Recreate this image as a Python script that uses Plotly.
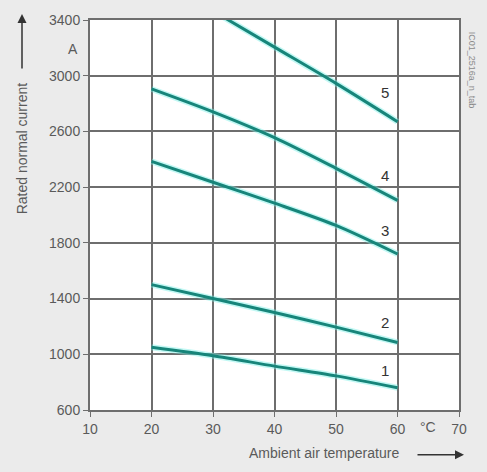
import plotly.graph_objects as go

temps = [20, 30, 40, 50, 60]
curve1 = [1050, 990, 915, 845, 760]
curve2 = [1500, 1400, 1300, 1195, 1085]
curve3 = [2385, 2235, 2085, 1925, 1720]
curve4 = [2905, 2740, 2555, 2335, 2105]
temps5 = [30, 40, 50, 60]
curve5 = [3465, 3205, 2945, 2670]
curve_labels = ["1", "2", "3", "4", "5"]
label_x = [58, 58, 58, 58, 58]
label_y = [870, 1215, 1875, 2270, 2865]
x_ticks = [10, 20, 30, 40, 50, 60, 70]
y_ticks = [600, 1000, 1400, 1800, 2200, 2600, 3000, 3400]

W, H = 487, 472
L, T = 90, 18
R = W - 459
B = H - 410
pw, ph = W - L - R, H - T - B

def px(xp):
    return (xp - L) / pw

def py(yp):
    return (H - B - yp) / ph

line_color = "#17857a"
font = "Liberation Sans, Arial, sans-serif"
tick_col = "#5a5a5a"
grid_col = "#6e6e6e"

fig = go.Figure()
for xs, ys in [(temps, curve1), (temps, curve2), (temps, curve3), (temps, curve4), (temps5, curve5)]:
    fig.add_trace(go.Scatter(x=xs, y=ys, mode="lines",
                             line=dict(color="rgba(120,240,230,0.45)", width=6, shape="spline", smoothing=0.8),
                             hoverinfo="skip", showlegend=False))
    fig.add_trace(go.Scatter(x=xs, y=ys, mode="lines",
                             line=dict(color=line_color, width=3, shape="spline", smoothing=0.8),
                             showlegend=False))

fig.add_trace(go.Scatter(x=label_x, y=label_y, mode="text", text=curve_labels,
                         textfont=dict(family=font, size=15, color="#333333"),
                         showlegend=False, hoverinfo="skip"))

axis_common = dict(showgrid=True, gridcolor=grid_col, gridwidth=2,
                   showline=True, linecolor=grid_col, linewidth=2, mirror=True,
                   ticks="outside", ticklen=5, tickcolor=grid_col, tickwidth=1,
                   zeroline=False,
                   tickfont=dict(family=font, size=14, color=tick_col))

fig.update_layout(
    width=W, height=H,
    margin=dict(l=L, r=R, t=T, b=B),
    paper_bgcolor="#ebebeb", plot_bgcolor="white",
    xaxis=dict(range=[10, 70], tickvals=x_ticks, **axis_common),
    yaxis=dict(range=[600, 3400], tickvals=y_ticks, **axis_common),
)

C = dict(xanchor="center", yanchor="middle")
anns = [
    dict(x=65, y=0, xref="x", yref="paper", text="°C", showarrow=False,
         xanchor="center", yanchor="top", yshift=-7, font=dict(family=font, size=14, color=tick_col)),
    dict(x=0, y=3190, xref="paper", yref="y", text="A", showarrow=False,
         xanchor="right", yanchor="middle", xshift=-10, font=dict(family=font, size=14, color=tick_col)),
    dict(x=px(22), y=py(147), xref="paper", yref="paper", text="Rated normal current",
         textangle=-90, showarrow=False, font=dict(family=font, size=14, color=tick_col), **C),
    dict(x=px(22), y=py(12), xref="paper", yref="paper", text="", showarrow=True,
         ax=0, ay=56, arrowhead=2, arrowsize=1.2, arrowwidth=1.5, arrowcolor="#333333"),
    dict(x=px(324), y=py(453), xref="paper", yref="paper", text="Ambient air temperature",
         showarrow=False, font=dict(family=font, size=14, color=tick_col), **C),
    dict(x=px(464), y=py(455), xref="paper", yref="paper", text="", showarrow=True,
         ax=-48, ay=0, arrowhead=2, arrowsize=1.2, arrowwidth=1.5, arrowcolor="#333333"),
    dict(x=px(472), y=py(68), xref="paper", yref="paper", text="IC01_2516a_n_tab",
         textangle=90, showarrow=False, font=dict(family=font, size=9, color="#8a8a8a"), **C),
]
fig.update_layout(annotations=anns)

fig.write_html("out.html",
               config={"displayModeBar": False},
               post_script="document.body.style.margin='0';document.body.style.overflow='hidden';")
